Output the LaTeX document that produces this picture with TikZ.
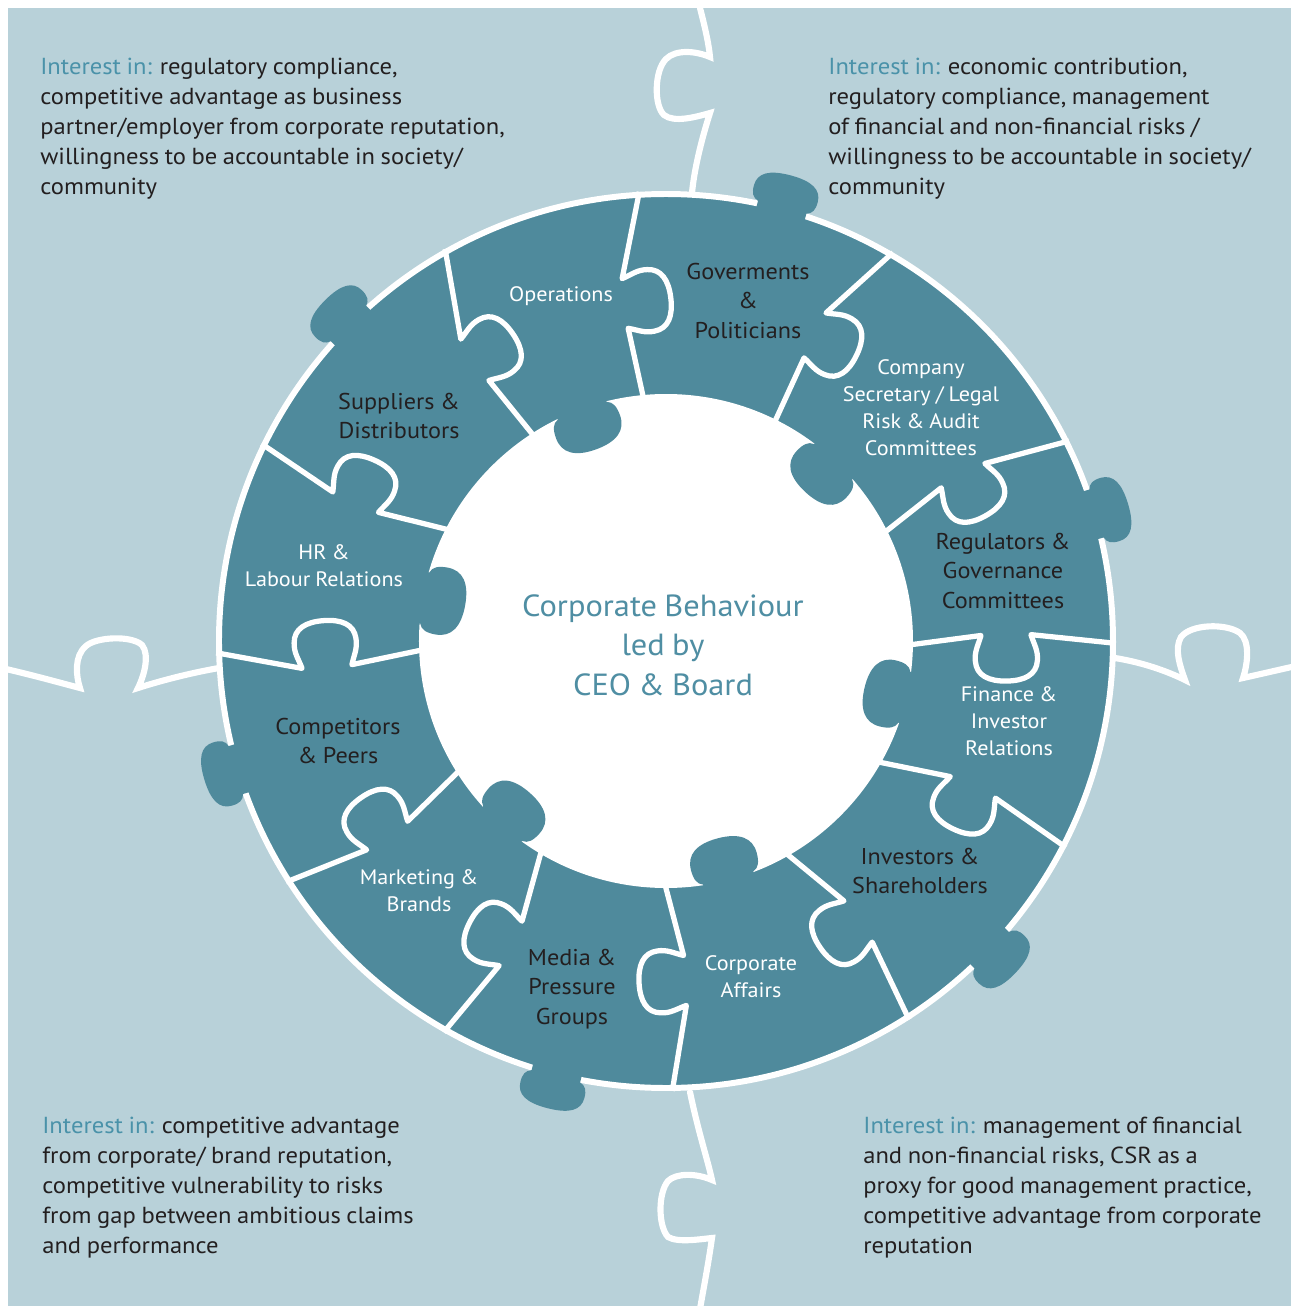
\documentclass[tikz,border=0pt]{standalone}
\usepackage{fontspec}
\setmainfont{PT Sans}[FakeStretch=1.06,WordSpace=0.85]
\definecolor{paleblue}{HTML}{B8D1D9}
\definecolor{ringteal}{HTML}{4F8A9C}
\definecolor{inkdark}{HTML}{231F20}
\definecolor{accentteal}{HTML}{4A92A9}
\definecolor{coreteal}{HTML}{4F8EA3}
\tikzset{seam/.style={draw=white,line width=3pt,line join=round},
         divider/.style={draw=white,line width=3.5pt,line cap=round},
         darklabel/.style={text=inkdark,align=center,inner sep=0pt,font=\fontsize{13}{16.7}\selectfont},
         lightlabel/.style={text=white,align=center,inner sep=0pt,font=\fontsize{11.9}{15.3}\selectfont},
         corelabel/.style={text=coreteal,align=center,inner sep=0pt,font=\fontsize{17.4}{22.4}\selectfont},
         interest/.style={anchor=north west,align=left,inner sep=0pt,text=inkdark,font=\fontsize{13.2}{17}\selectfont}}
% separator between two pieces: outer angle, knob angle, inner angle
\newcommand{\puzzleseam}[3]{%
  \begin{scope}[rotate=#2]
    \draw[seam] ({#1-(#2)}:450) -- (365,0) .. controls (368,-10) and (372,-16) .. (371,-26)
      .. controls (370,-40) and (358,-46) .. (340,-46) .. controls (322,-46) and (310,-40) .. (309,-26)
      .. controls (308,-16) and (312,-10) .. (315,0) -- ({#3-(#2)}:244);
  \end{scope}}
\newcommand{\outerknob}[1]{%
  \fill[ringteal,rotate=#1] (440,25) -- (449,25) .. controls (451,31) and (455,33) .. (463,33)
    .. controls (476,33) and (482,22) .. (482,0) .. controls (482,-22) and (476,-33) .. (463,-33)
    .. controls (455,-33) and (451,-31) .. (449,-25) -- (440,-25) -- cycle;}
\newcommand{\innerknob}[1]{%
  \fill[ringteal,rotate=#1] (252,26) -- (245,26) .. controls (243,32) and (237,34) .. (228,34)
    .. controls (212,34) and (204,22) .. (204,0) .. controls (204,-22) and (212,-34) .. (228,-34)
    .. controls (237,-34) and (243,-32) .. (245,-26) -- (252,-26) -- cycle;}
\begin{document}
\begin{tikzpicture}[x=0.02cm,y=0.02cm]
  \useasboundingbox (-666,-665) rectangle (625,641);
  \fill[white] (-666,-665) rectangle (625,641);
  \fill[paleblue] (-658,-665) rectangle (625,633);

  % quadrant borders
  \draw[divider] (34,633) .. controls (40,610) and (43,595) .. (44,584) .. controls (30,590) and (10,592) .. (0,582)
    .. controls (-12,570) and (-12,535) .. (-2,526) .. controls (8,518) and (30,524) .. (44,528) .. controls (35,500) and (28,470) .. (26,448);
  \draw[divider] (24,-451) .. controls (32,-490) and (42,-520) .. (46,-539) .. controls (30,-532) and (10,-532) .. (2,-540)
    .. controls (-8,-552) and (-8,-585) .. (2,-596) .. controls (12,-602) and (35,-598) .. (46,-597) .. controls (42,-625) and (38,-645) .. (34,-668);
  \draw[divider] (-660,-28) .. controls (-630,-35) and (-605,-42) .. (-586,-47) .. controls (-590,-35) and (-592,-15) .. (-580,-5)
    .. controls (-570,4) and (-535,6) .. (-524,-4) .. controls (-516,-14) and (-522,-35) .. (-528,-47) .. controls (-500,-38) and (-470,-31) .. (-447,-27);
  \draw[divider] (449,-17) .. controls (480,-22) and (505,-32) .. (519,-39) .. controls (514,-25) and (508,-8) .. (515,4)
    .. controls (525,17) and (560,18) .. (574,8) .. controls (584,0) and (582,-22) .. (577,-37) .. controls (595,-33) and (612,-29) .. (630,-25);

  % ring of pieces
  \fill[ringteal] (0,0) circle (447);
  \draw[white,line width=3.4pt] (0,0) circle (447);
  \foreach \a in {75,135,16.5,196.7,255.8,316.5} {\outerknob{\a}}
  \fill[white] (0,0) circle (247);
  \foreach \a in {110,47,-13.3,-75.3,228.2,169.9} {\innerknob{\a}}
  \foreach \o/\k/\i in {93.4/96.9/95.3, 59.7/64.0/63.6, 26.4/29.1/26.4, -0.3/1.0/-0.9,
                        -27.3/-25.5/-29.7, -57.3/-55.6/-60.5, -89.2/-86.8/-90.2, 240.4/242.8/239.3,
                        212.4/214.9/212.1, 181.5/184.3/182.1, 154.0/155.9/152.9, 119.4/124.2/122.8}
    {\puzzleseam{\o}{\k}{\i}}

  % piece labels
  \node[lightlabel] (operations) at (-105,345) {Operations};
  \node[darklabel] (governments) at (82,340) {Goverments\\\&\\Politicians};
  \node[lightlabel] (secretary) at (255,233) {Company\\Secretary / Legal\\Risk \& Audit\\Committees};
  \node[darklabel] (regulators) at (337,70) {Regulators \&\\Governance\\Committees};
  \node[lightlabel] (finance) at (343,-80) {Finance \&\\Investor\\Relations};
  \node[darklabel] (investors) at (254,-230) {Investors \&\\Shareholders};
  \node[lightlabel] (affairs) at (85,-336) {Corporate\\Affairs};
  \node[darklabel] (media) at (-94,-348) {Media \&\\Pressure\\Groups};
  \node[lightlabel] (marketing) at (-247,-250) {Marketing \&\\Brands};
  \node[darklabel] (competitors) at (-328,-100) {Competitors\\\& Peers};
  \node[lightlabel] (hr) at (-342,75) {HR \&\\Labour Relations};
  \node[darklabel] (suppliers) at (-267,225) {Suppliers \&\\Distributors};
  \node[corelabel] (core) at (-3,-4) {Corporate Behaviour\\led by\\CEO \& Board};

  % interests per quadrant
  \node[interest] (topleft) at (-626,583) {\textcolor{accentteal}{Interest in:} regulatory compliance,\\competitive advantage as business\\partner/employer from corporate reputation,\\willingness to be accountable in society/\\community};
  \node[interest] (topright) at (162,583) {\textcolor{accentteal}{Interest in:} economic contribution,\\regulatory compliance, management\\of financial and non-financial risks /\\willingness to be accountable in society/\\community};
  \node[interest] (bottomleft) at (-624,-476) {\textcolor{accentteal}{Interest in:} competitive advantage\\from corporate/ brand reputation,\\competitive vulnerability to risks\\from gap between ambitious claims\\and performance};
  \node[interest] (bottomright) at (197,-476) {\textcolor{accentteal}{Interest in:} management of financial\\and non-financial risks, CSR as a\\proxy for good management practice,\\competitive advantage from corporate\\reputation};
\end{tikzpicture}
\end{document}
